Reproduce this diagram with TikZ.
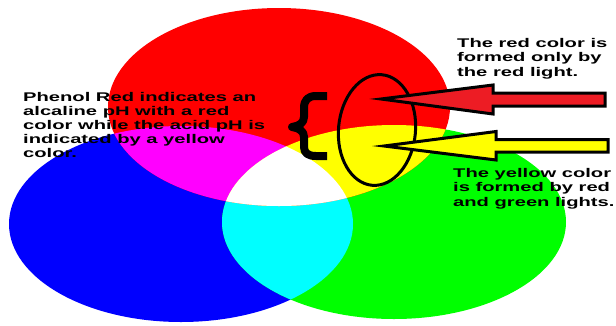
\documentclass[tikz,border=0pt]{standalone}
\usepackage{fontspec}
\newfontfamily\lbl{Liberation Sans Bold}[FakeStretch=1.6]
\definecolor{arrowred}{RGB}{237,28,36}
\definecolor{lred}{RGB}{255,0,0}
\definecolor{lgreen}{RGB}{0,255,0}
\definecolor{lblue}{RGB}{0,0,255}
\definecolor{lcyan}{RGB}{0,255,255}
\definecolor{lmagenta}{RGB}{255,0,255}
\definecolor{lyellow}{RGB}{255,255,0}
\begin{document}
\begin{tikzpicture}[x=1pt,y=-1pt,
  txt/.style={inner sep=0pt, anchor=north west, align=left, text=black,
              font=\lbl\fontsize{12.6}{14.2}\selectfont},
  arrowline/.style={draw=black, line width=3pt, line join=miter}]
\useasboundingbox (0,0) rectangle (616,325);
\fill[white] (0,0) rectangle (616,325);
% base lights
\fill[lblue]  (181,224) ellipse (172 and 98);
\fill[lgreen] (394,222) ellipse (172 and 97);
\fill[lred]   (279,107) ellipse (171 and 99);
% cyan = blue & green
\begin{scope}
  \clip (181,224) ellipse (172 and 98);
  \fill[lcyan] (394,222) ellipse (172 and 97);
\end{scope}
% magenta, yellow, white
\begin{scope}
  \clip (279,107) ellipse (171 and 99);
  \fill[lmagenta] (181,224) ellipse (172 and 98);
  \fill[lyellow] (394,222) ellipse (172 and 97);
  \clip (181,224) ellipse (172 and 98);
  \fill[white] (394,222) ellipse (172 and 97);
\end{scope}
% brace
\draw[line width=8pt, line join=round] (327,96) -- (316,96)
  .. controls (308,96) and (304,100) .. (304,108) -- (304,117)
  .. controls (304,123) and (299,126) .. (292,127)
  .. controls (299,128) and (304,131) .. (304,137) -- (304,147)
  .. controls (304,153) and (308,156) .. (316,156) -- (327,156);
% ellipse outline
\draw[line width=3pt, rotate around={-5:(377,130)}] (377,130) ellipse (38.5 and 55.5);
% arrows
\draw[arrowline, fill=arrowred] (381,99) -- (493,85) -- (493,93) -- (605,93)
  -- (605,106) -- (493,106) -- (493,114) -- cycle;
\draw[arrowline, fill=lyellow] (384,146) -- (496,131.5) -- (496,139.5) -- (608,139.5)
  -- (608,152) -- (496,152) -- (496,160) -- cycle;
% texts
\node[txt] (phenol) at (23,91.7) {Phenol Red indicates an\\alcaline pH with a red\\color while the acid pH is\\indicated by a yellow\\color.};
\node[txt] (redtxt) at (457,38.3) {The red color is\\formed only by\\the red light.};
\node[txt] (yeltxt) at (453,168.3) {The yellow color\\is formed by red\\and green lights.};
\end{tikzpicture}
\end{document}
